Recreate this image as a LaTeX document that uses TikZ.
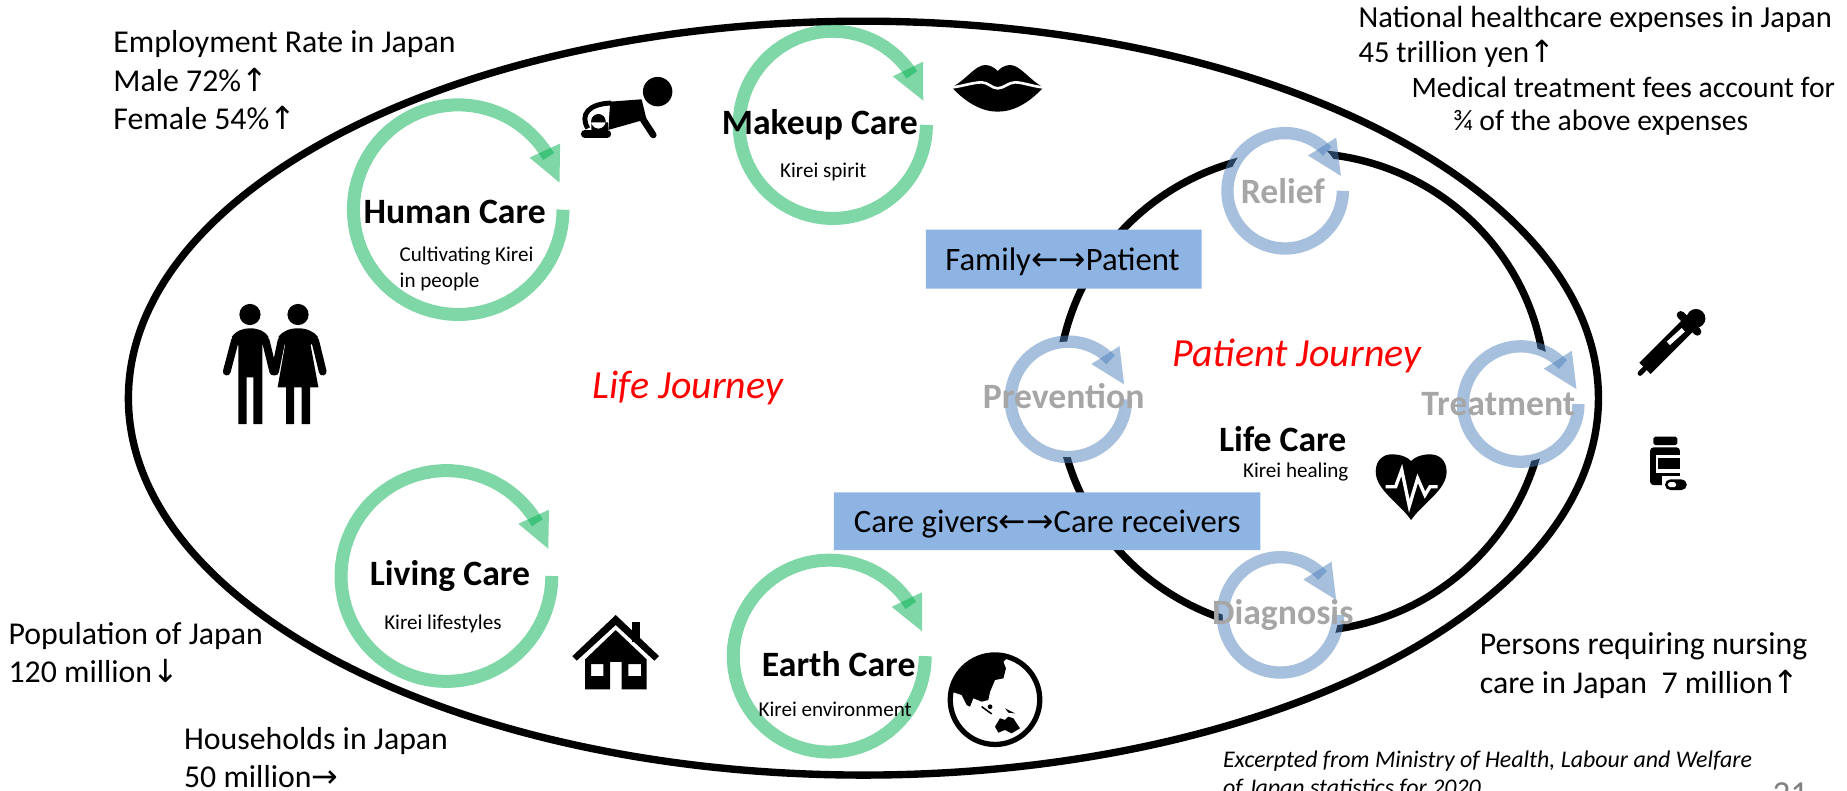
\documentclass[tikz,border=0pt]{standalone}
\usepackage{fontspec}
\setmainfont{Carlito}
\newfontfamily\arrowfont{DejaVu Sans}
\usetikzlibrary{calc}
\newcommand{\upsign}{{\arrowfont\char"2191}}
\newcommand{\downsign}{{\arrowfont\char"2193}}
\newcommand{\leftsign}{{\arrowfont\char"2190}}
\newcommand{\rightsign}{{\arrowfont\char"2192}}
\definecolor{ringgreen}{HTML}{00B050}
\definecolor{ringblue}{HTML}{4F81BD}
\definecolor{boxblue}{HTML}{8EB4E3}
\definecolor{labelgray}{HTML}{A6A6A6}
\tikzstyle{orbit}=[line width=4.2pt]
\tikzstyle{stat}=[anchor=west,align=left,inner sep=0,font=\fontsize{18.1}{22}\selectfont]
\tikzstyle{costs}=[anchor=west,align=left,inner sep=0,font=\fontsize{17.4}{20}\selectfont]
\tikzstyle{fees}=[anchor=west,inner sep=0,font=\fontsize{16.85}{20}\selectfont]
\tikzstyle{carename}=[inner sep=0,font=\fontsize{20.3}{24}\bfseries\selectfont]
\tikzstyle{caresub}=[inner sep=0,align=left,font=\fontsize{12}{15}\selectfont]
\tikzstyle{stepname}=[inner sep=0,text=labelgray,font=\fontsize{20.3}{24}\bfseries\selectfont]
\tikzstyle{journey}=[inner sep=0,text=red,font=\fontsize{22.7}{26}\itshape\selectfont]
\tikzstyle{relation}=[inner sep=0,font=\fontsize{18.6}{22}\selectfont]
\tikzstyle{source}=[anchor=west,align=left,inner sep=0,font=\fontsize{13.6}{16}\itshape\selectfont]
\newcommand{\ringarrow}[5]{
  \begin{scope}[shift={(#1,#2)}]
    \pgfmathsetmacro{\headangle}{345-30/#3*57.3}
    \pgfmathsetmacro{\bandend}{\headangle+6/#3*57.3}
    \coordinate (tip) at (345:#3);
    \coordinate (base) at (\headangle:#3);
    \fill[white] (0,0) circle (#3);
    \draw[#4,opacity=.5,line width=#5] plot[domain=0:\bandend,samples=70] (\x:#3);
    \fill[#4,opacity=.5] (tip) -- ($(base)!.48!90:(tip)$) -- ($(base)!.48!-90:(tip)$) -- cycle;
  \end{scope}
}
\begin{document}
\begin{tikzpicture}[x=.02356cm,y=-.02356cm]
  \clip (0,0) rectangle (1568,671);
  % journeys
  \draw[orbit] (733,338) ellipse (624 and 320);
  \draw[orbit] (1105,333) ellipse (207 and 203);
  % care rings
  \ringarrow{389}{178}{89}{ringgreen}{7.4pt}
  \ringarrow{707}{106}{79.5}{ringgreen}{7.4pt}
  \ringarrow{379}{489}{89.5}{ringgreen}{7.4pt}
  \ringarrow{704}{557}{81.5}{ringgreen}{7.4pt}
  \ringarrow{1091}{162}{49}{ringblue}{7pt}
  \ringarrow{907}{339}{49}{ringblue}{7pt}
  \ringarrow{1291}{343}{49}{ringblue}{7pt}
  \ringarrow{1087}{522}{49}{ringblue}{7pt}
  % texts
  \node[stat] (employment) at (96,68) {Employment Rate in Japan\\Male 72\%\upsign\\Female 54\%\upsign};
  \node[costs] (expenses) at (1153,31) {National healthcare expenses in Japan\\45 trillion yen\upsign};
  \node[fees] (feeshare) at (1198,74) {Medical treatment fees account for};
  \node[fees] (fraction) at (1233,104) {¾ of the above expenses};
  \node[stat] (population) at (7,554) {Population of Japan\\120 million\downsign};
  \node[stat] (households) at (156,643) {Households in Japan\\50 million\rightsign};
  \node[stat] (nursing) at (1256,565) {Persons requiring nursing\\care in Japan\ \ 7 million\upsign};
  \node[source] (excerpt) at (1038,658) {Excerpted from Ministry of Health, Labour and Welfare\\of Japan statistics for 2020};
  \node[inner sep=0,text=gray,font=\fontsize{20}{24}\selectfont] (pagenum) at (1520,674) {21};
  \node[carename] (human) at (386,180) {Human Care};
  \node[carename] (makeup) at (696,106) {Makeup Care};
  \node[carename] (living) at (382,489) {Living Care};
  \node[carename] (earth) at (712,564) {Earth Care};
  \node[carename] (life) at (1089,373) {Life Care};
  \node[caresub,anchor=west] (humansub) at (339,228) {Cultivating Kirei\\in people};
  \node[caresub] (makeupsub) at (699,146) {Kirei spirit};
  \node[caresub] (livingsub) at (376,530) {Kirei lifestyles};
  \node[caresub] (earthsub) at (709,602) {Kirei environment};
  \node[caresub] (lifesub) at (1100,401) {Kirei healing};
  \node[stepname] (relief) at (1089,162) {Relief};
  \node[stepname] (prevention) at (903,336) {Prevention};
  \node[stepname] (treatment) at (1272,343) {Treatment};
  \node[stepname] (diagnosis) at (1089,522) {Diagnosis};
  \node[journey] (lifejourney) at (584,329) {Life Journey};
  \node[journey] (patientjourney) at (1101,302) {Patient Journey};
  \fill[boxblue] (786,195) rectangle (1020,245) (708,418) rectangle (1070,467);
  \node[relation] (family) at (902,222) {Family\leftsign\rightsign Patient};
  \node[relation] (givers) at (889,445) {Care givers\leftsign\rightsign Care receivers};
  % couple
  \fill (212.2,267) circle (9) (253,267) circle (9);
  \fill (196.7,286) .. controls (200,281) and (206,278.7) .. (212.2,278.7) .. controls (219,278.7) and (225,281) .. (228,286)
    -- (222.7,293) -- (222.7,360) -- (215,360) -- (215,320.3) -- (209.4,320.3) -- (209.4,360) -- (202.3,360) -- (202.3,293) -- cycle;
  \fill (236.3,286) .. controls (240,281) and (246,278.7) .. (253,278.7) .. controls (260,278.7) and (266,281) .. (270,286)
    -- (263.7,293) -- (270.3,328.8) -- (263.2,328.8) -- (263.2,360) -- (256.1,360) -- (256.1,328.8) -- (249.6,328.8) -- (249.6,360) -- (242.8,360) -- (242.8,328.8) -- (235.7,328.8) -- (242,293) -- cycle;
  \draw[line width=4.4pt,line cap=round] (199.5,289)--(192.5,315.5) (225.5,289)--(232,315.5) (239,289)--(233.5,315.5) (267.5,289)--(274,315.5);
  % baby
  \fill (558.3,77.8) circle (12.5);
  \fill (518,86.3) -- (544.7,84.3) -- (549,101.8) -- (543.3,102.7) -- (516.4,110.3) -- cycle;
  \draw[line width=3.8pt,line cap=round] (545,100)--(554.6,114.6);
  \draw[line width=2.8pt] (519,87.5) .. controls (500,88) and (492,97) .. (499,109);
  \fill (508,103) circle (6.2) (502,104) rectangle (516,113);
  \draw[line width=4.5pt,line cap=round] (496.5,113.7)--(515.5,113.7);
  % lips
  \fill (808,74.2) .. controls (820,68) and (828,55.2) .. (836.3,55.2) .. controls (841,55.2) and (845,58) .. (847,60.3)
    .. controls (849,58) and (853,55.2) .. (857.5,55.2) .. controls (866,55.2) and (874,68) .. (885.8,74.2)
    .. controls (873,88) and (860,94.8) .. (847,94.8) .. controls (834,94.8) and (821,88) .. (808,74.2) -- cycle;
  \draw[white,line width=1.5pt] (805,74.5) .. controls (815,74) and (825,70) .. (833.4,69.9) .. controls (839,70) and (842,75) .. (847,75)
    .. controls (852,75) and (856,70) .. (861.7,69.9) .. controls (869,70) and (878,74) .. (889,74.5);
  % house
  \fill (536.9,527.8) rectangle (543.7,545);
  \fill (522.7,522.1) -- (559.5,557) -- (555.5,560.9) -- (522.7,530.6) -- (489.6,560.9) -- (485.9,557) -- cycle;
  \fill[even odd rule] (522.7,534.9) -- (549,559.8) -- (549,585.3) -- (527.8,585.3) -- (527.8,561.8) -- (517.9,561.8) -- (517.9,585.3) -- (496.7,585.3) -- (496.7,559.8) -- cycle
    (501.8,563.7) rectangle (512.2,573.9) (533.5,563.7) rectangle (544.2,573.9);
  % globe
  \draw[line width=3pt] (844.7,594) circle (38);
  \begin{scope}
    \clip (844.7,594) circle (38);
    \fill (800,587.2) -- (807.9,587.2) -- (816.4,590) -- (820.6,598.5) -- (823.5,599.9) -- (826.3,592.8) -- (833.4,595.7) -- (839,594.3) -- (840.5,587.2) -- (844.7,577.3) -- (851.8,575.9) -- (854,567.4) -- (851.8,561.7) -- (856,557.5) -- (856,545) -- (800,545) -- cycle;
  \end{scope}
  \fill (844.7,616.9) -- (848.9,609.8) -- (853.2,611.2) -- (856,608.4) -- (860.3,609.8) -- (865.9,618.3) -- (858.8,622.6) -- (853.2,619.7) -- (847.5,622) -- cycle;
  \fill (853.2,601.3) -- (861.7,605.6) -- (856,605) -- cycle (840.5,600) circle (2);
  \draw[line width=.9pt] (833.4,599.9)--(841.9,606.1);
  % heart
  \fill (1197.9,441.5) .. controls (1188,427) and (1167.9,416) .. (1167.9,400.4) .. controls (1167.9,391) and (1174,385.7) .. (1181.4,385.7)
    .. controls (1189,385.7) and (1195,388) .. (1197.9,391.4) .. controls (1201,388) and (1207,385.7) .. (1214,385.7)
    .. controls (1222,385.7) and (1228.1,391) .. (1228.1,400.4) .. controls (1228.1,416) and (1208,427) .. (1197.9,441.5) -- cycle;
  \draw[white,line width=1.9pt] (1176.3,413.2)--(1184.8,413.2)--(1190,399)--(1196.4,429.6)--(1203.5,406.1)--(1209.7,420.3)--(1214,413.2)--(1220.5,413.2);
  % dropper
  \fill (1439.8,270.3) circle (8);
  \draw[line width=4.5pt,line cap=round] (1426.8,267.4)--(1441,281.6);
  \draw[line width=9pt] (1433.3,275.9)--(1396.5,312.7);
  \draw[white,line width=2.7pt] (1416.3,291.5)--(1429,280);
  \draw[line width=2.8pt,line cap=round] (1392.3,317)--(1399,310);
  % bottle
  \fill[rounded corners=1pt] (1403.6,370.7) rectangle (1424,377.8);
  \fill[rounded corners=2pt] (1400.8,379.8) rectangle (1426.2,411.8);
  \fill[white] (1405.9,386.3) rectangle (1426.2,401.3);
  \fill (1407.9,389.1) rectangle (1426.2,398.5);
  \fill[white] (1411,404.5) rectangle (1434,418);
  \fill[rounded corners=3pt] (1413.5,407) rectangle (1432,416);
  \fill[white,rounded corners=1pt] (1416,409.4) rectangle (1423,413.6);
\end{tikzpicture}
\end{document}
